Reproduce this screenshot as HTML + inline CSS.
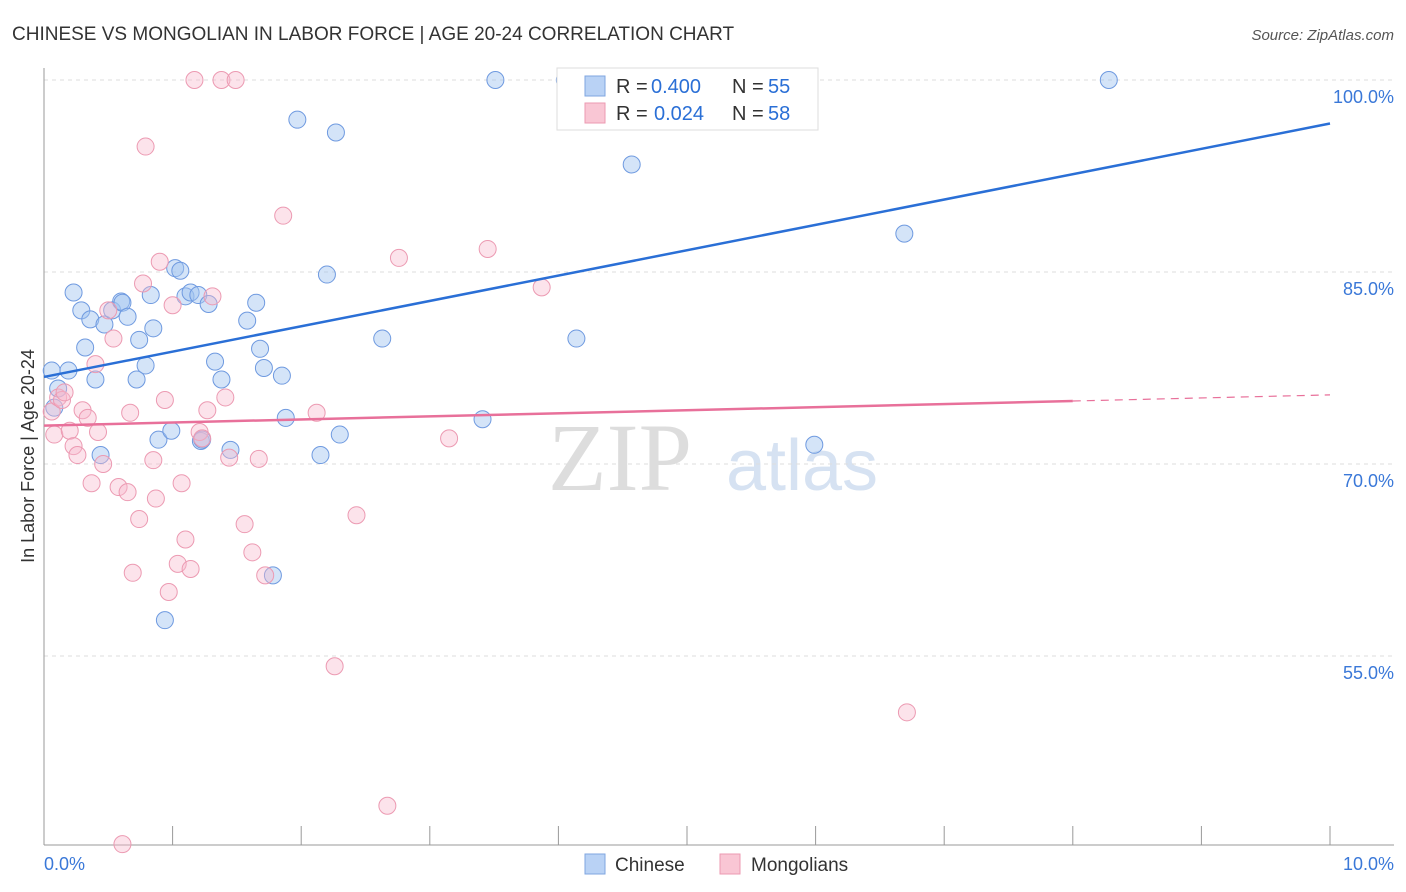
<!DOCTYPE html>
<html><head><meta charset="utf-8"><style>
body{margin:0;background:#fff;font-family:"Liberation Sans",sans-serif;}
svg{display:block}
</style></head><body>
<svg id="chart" width="1406" height="892">
<text x="12" y="40" font-size="19" fill="#333">CHINESE VS MONGOLIAN IN LABOR FORCE | AGE 20-24 CORRELATION CHART</text>
<text x="1394" y="40" font-size="15" fill="#555" font-style="italic" text-anchor="end">Source: ZipAtlas.com</text>
<text x="620" y="490" font-size="96" fill="#ddd" font-family="Liberation Serif,serif" text-anchor="middle">ZIP</text>
<text x="802" y="490" font-size="72" fill="#d6e2f2" text-anchor="middle">atlas</text>
<text transform="translate(34,456) rotate(-90)" font-size="18" fill="#333" text-anchor="middle">In Labor Force | Age 20-24</text>
<g id="grid"></g><g id="pts"></g><g id="lines"></g>
<g>
<rect x="557" y="68" width="261" height="62" fill="#fff" stroke="#ddd"/>
<rect x="585" y="76" width="20" height="20" fill="#b9d2f5" stroke="#7fa6e0"/>
<rect x="585" y="103" width="20" height="20" fill="#f9c6d4" stroke="#ec9ab2"/>
<g font-size="20" fill="#333">
<text x="616" y="93">R =</text><text x="651" y="93" fill="#2a6fd6">0.400</text><text x="732" y="93">N =</text><text x="768" y="93" fill="#2a6fd6">55</text>
<text x="616" y="120">R =</text><text x="654" y="120" fill="#2a6fd6">0.024</text><text x="732" y="120">N =</text><text x="768" y="120" fill="#2a6fd6">58</text>
</g>
</g>
<g>
<rect x="585" y="854" width="20" height="20" fill="#b9d2f5" stroke="#7fa6e0"/>
<text x="615" y="871" font-size="19" fill="#333">Chinese</text>
<rect x="720" y="854" width="20" height="20" fill="#f9c6d4" stroke="#ec9ab2"/>
<text x="751" y="871" font-size="19" fill="#333">Mongolians</text>
</g>
<text x="44" y="870" font-size="18" fill="#3a78d8">0.0%</text>
<text x="1394" y="870" font-size="18" fill="#3a78d8" text-anchor="end">10.0%</text>
</svg>
<script>
const yTicks=[100,85,70,55];
const blueX=[0.06,0.08,0.11,0.19,0.23,0.29,0.32,0.36,0.4,0.44,0.47,0.53,0.6,0.61,0.65,0.72,0.74,0.79,0.83,0.85,0.89,0.99,1.02,1.06,1.1,1.14,1.2,1.22,1.28,1.33,1.38,1.45,1.58,1.65,1.68,1.71,1.78,1.85,1.88,1.97,2.15,2.2,2.27,2.3,2.63,3.41,3.51,4.05,4.14,4.57,5.99,6.69,8.28,0.94,1.23];
const blueY=[77.3,74.4,75.9,77.3,83.4,82,79.1,81.3,76.6,70.7,80.9,82,82.7,82.6,81.5,76.6,79.7,77.7,83.2,80.6,71.9,72.6,85.3,85.1,83.1,83.4,83.2,71.8,82.5,78,76.6,71.1,81.2,82.6,79,77.5,61.3,76.9,73.6,96.9,70.7,84.8,95.9,72.3,79.8,73.5,100,100,79.8,93.4,71.5,88.0,100,57.8,71.9];
const pinkX=[0.06,0.08,0.11,0.14,0.16,0.2,0.23,0.26,0.3,0.34,0.37,0.4,0.42,0.46,0.5,0.54,0.58,0.61,0.65,0.67,0.69,0.74,0.77,0.79,0.85,0.87,0.9,0.94,0.97,1.0,1.04,1.07,1.1,1.14,1.17,1.21,1.23,1.27,1.31,1.38,1.41,1.44,1.49,1.56,1.62,1.67,1.72,1.86,2.12,2.26,2.43,2.67,2.76,3.15,3.45,3.87,5.57,6.71];
const pinkY=[74.1,72.3,75.2,75,75.6,72.6,71.4,70.7,74.2,73.6,68.5,77.8,72.5,70,82,79.8,68.2,40.3,67.8,74,61.5,65.7,84.1,94.8,70.3,67.3,85.8,75,60,82.4,62.2,68.5,64.1,61.8,100,72.5,72,74.2,83.1,100,75.2,70.5,100,65.3,63.1,70.4,61.3,89.4,74,54.2,66,43.3,86.1,72,86.8,83.8,100,50.6];
const blueTrend=[76.8,96.6], pinkTrend=[73.0,75.4];
const NS='http://www.w3.org/2000/svg';
const X=v=>44+v*128.6, Y=v=>80+(100-v)*12.8;
function mk(t,a,p){const e=document.createElementNS(NS,t);for(const k in a)e.setAttribute(k,a[k]);p.appendChild(e);return e;}
const grid=document.getElementById('grid');
yTicks.forEach(t=>{
 const l=mk('line',{x1:44,x2:1394,y1:Y(t),y2:Y(t),stroke:'#ddd','stroke-dasharray':'4,4'},grid);
 
 
 const tx=mk('text',{x:1394,y:Y(t)+23,'font-size':18,fill:'#3a78d8','text-anchor':'end'},grid);
 tx.textContent=t.toFixed(1)+'%';
 
 
});
const ax=mk('line',{x1:44,x2:44,y1:68,y2:845,stroke:'#999'},grid);


const bx=mk('line',{x1:44,x2:1394,y1:845,y2:845,stroke:'#999'},grid);


for(let i=0;i<=10;i++){
 const tk=mk('line',{x1:X(i),x2:X(i),y1:826,y2:845,stroke:'#999'},grid);
 
 
}
const pts=document.getElementById('pts');
blueX.forEach((v,i)=>{
 const c=mk('circle',{cx:X(v),cy:Y(blueY[i]),r:8.5,fill:'rgba(160,195,240,0.45)',stroke:'#6f9ae0','stroke-width':1},pts);
 
 
});
pinkX.forEach((v,i)=>{
 const c=mk('circle',{cx:X(v),cy:Y(pinkY[i]),r:8.5,fill:'rgba(248,185,205,0.4)',stroke:'#ec9ab2','stroke-width':1},pts);
 
 
});
const lines=document.getElementById('lines');
const bl=mk('line',{x1:X(0),y1:Y(blueTrend[0]),x2:X(10),y2:Y(blueTrend[1]),stroke:'#2a6fd6','stroke-width':2.5},lines);


const pm=pinkTrend[0]+(pinkTrend[1]-pinkTrend[0])*0.8;
const pl=mk('line',{x1:X(0),y1:Y(pinkTrend[0]),x2:X(8),y2:Y(pm),stroke:'#e8709a','stroke-width':2.5},lines);


const pd=mk('line',{x1:X(8),y1:Y(pm),x2:X(10),y2:Y(pinkTrend[1]),stroke:'#e8709a','stroke-width':1.2,'stroke-dasharray':'8,6'},lines);


</script>
</body></html>
